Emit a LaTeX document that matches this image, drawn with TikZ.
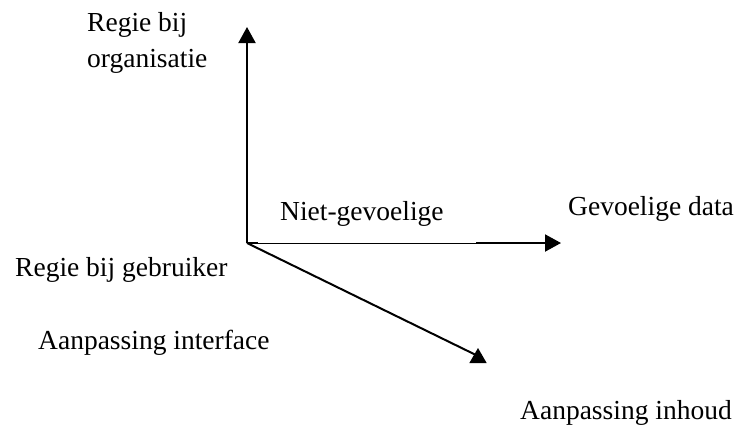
\documentclass[tikz,border=0pt]{standalone}
\usepackage{fontspec}
\setmainfont{Liberation Serif}
\usetikzlibrary{arrows.meta,shapes.geometric}
\begin{document}
\begin{tikzpicture}[x=1bp,y=-1bp,
  lbl/.style={anchor=base west,inner sep=0pt,font=\fontsize{27.5bp}{36bp}\selectfont},
  axis/.style={line width=2bp,-{Triangle[length=16bp,width=17bp]}},
  thinaxis/.style={line width=0.9bp},
  stub/.style={line width=2bp}]
\useasboundingbox (0,0) rectangle (738,428);
\coordinate (o) at (247,243);
\coordinate (vtip) at (247,27);
\coordinate (stubend) at (258,243);
\coordinate (hmid) at (476,243);
\coordinate (htip) at (561,243);
\node[regular polygon,regular polygon sides=3,fill=black,inner sep=0pt,minimum size=20bp] (dtri) at (478,358) {};
\coordinate (dend) at (478,356);
% axes
\draw[axis] (o) -- (vtip);
\draw[stub] (o) -- (stubend);
\draw[thinaxis] (o) -- (hmid);
\draw[axis] (hmid) -- (htip);
\draw[line width=2bp] (o) -- (dend);
% labels
\node[lbl] (l1) at (87,31) {Regie bij};
\node[lbl] (l2) at (87,67) {organisatie};
\node[lbl] (l3) at (280,220) {Niet-gevoelige};
\node[lbl] (l4) at (568,215) {Gevoelige data};
\node[lbl] (l5) at (15,276) {Regie bij gebruiker};
\node[lbl] (l6) at (38,349) {Aanpassing interface};
\node[lbl] (l7) at (520,419) {Aanpassing inhoud};
\end{tikzpicture}
\end{document}
